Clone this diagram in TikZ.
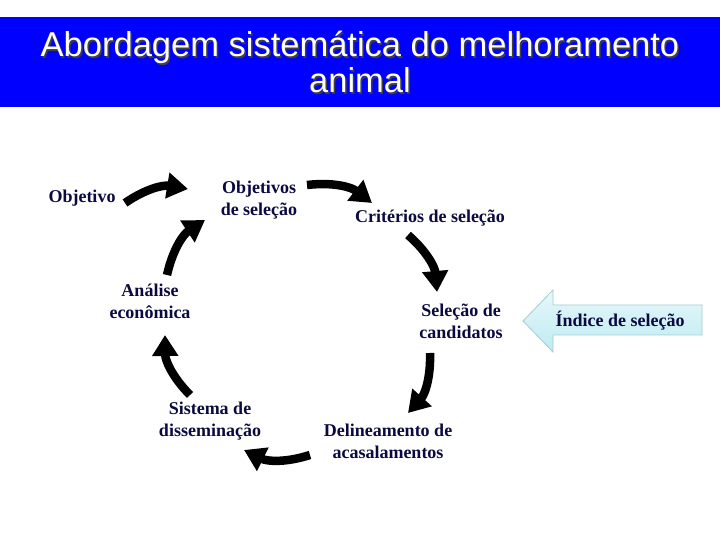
\documentclass[tikz,border=0pt]{standalone}
\usepackage{fontspec}
\setmainfont{Liberation Serif}
\newfontfamily\titlefont{Liberation Sans}
\usetikzlibrary{arrows.meta}
\definecolor{titleblue}{HTML}{0000FF}
\definecolor{navy}{HTML}{0A0A40}
\definecolor{idxtop}{HTML}{E6F8FB}
\definecolor{idxbot}{HTML}{BDEBF1}
\definecolor{idxedge}{HTML}{A9CAD3}
\tikzset{
  lbl/.style={text=navy, font=\fontsize{18}{22}\selectfont\bfseries, align=center, inner sep=0pt},
  flow/.style={line width=8.5pt, -{Triangle[length=21pt,width=25pt]}, bend left=22},
  ttl/.style={font=\titlefont\fontsize{34.5}{36}\selectfont, align=center, inner sep=0pt}
}
\begin{document}
\begin{tikzpicture}[x=1pt,y=1pt]
\useasboundingbox (0,0) rectangle (720,540);
\fill[white] (0,0) rectangle (720,540);
% title bar
\fill[titleblue] (0,433) rectangle (720,523);
\node[ttl, text=black!75] (titleshadow) at (361.5,476.5) {Abordagem sistemática do melhoramento\\animal};
\node[ttl, text=white] (title) at (360,478) {Abordagem sistemática do melhoramento\\animal};
% labels
\node[lbl] (obj) at (82,342) {Objetivo};
\node[lbl] (objsel) at (259,339.5) {Objetivos\\de seleção};
\node[lbl] (crit) at (430,322) {Critérios de seleção};
\node[lbl] (anal) at (150,239) {Análise\\econômica};
\node[lbl] (selc) at (461,219) {Seleção de\\candidatos};
\node[lbl] (sist) at (210,119) {Sistema de\\disseminação};
\node[lbl] (deli) at (388,99) {Delineamento de\\acasalamentos};
% arrow endpoints
\coordinate (a1s) at (125,337); \coordinate (a1e) at (188,351);
\coordinate (a2s) at (307,355); \coordinate (a2e) at (372,337);
\coordinate (a3s) at (408,305); \coordinate (a3e) at (437,248);
\coordinate (a4s) at (430,187); \coordinate (a4e) at (408,127);
\coordinate (a5s) at (310,85);  \coordinate (a5e) at (244,90);
\coordinate (a6s) at (190,145); \coordinate (a6e) at (165,205);
\coordinate (a7s) at (167,265); \coordinate (a7e) at (205,320);
\draw[flow] (a1s) to (a1e);
\draw[flow] (a2s) to (a2e);
\draw[flow] (a3s) to (a3e);
\draw[flow] (a4s) to (a4e);
\draw[flow] (a5s) to (a5e);
\draw[flow] (a6s) to (a6e);
\draw[flow] (a7s) to (a7e);
% index arrow
\draw[idxedge, line width=0.8pt, top color=idxtop, bottom color=idxbot]
  (523,219) -- (553,250) -- (553,235) -- (702,235) -- (702,205) -- (553,205) -- (553,188) -- cycle;
\node[lbl] (idx) at (620,219) {Índice de seleção};
\end{tikzpicture}
\end{document}
